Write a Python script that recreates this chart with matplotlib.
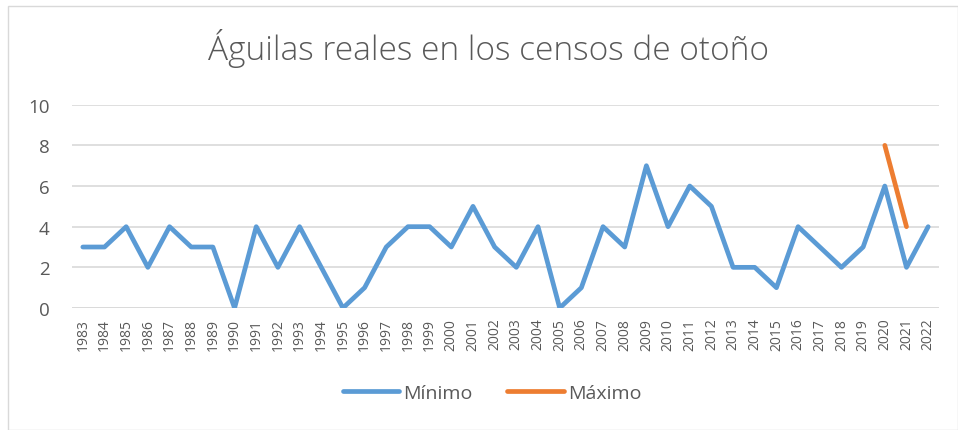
import matplotlib
matplotlib.use("Agg")
import matplotlib.pyplot as plt
from matplotlib.patches import Rectangle

years = [str(y) for y in range(1983, 2023)]
minimo = [3, 3, 4, 2, 4, 3, 3, 0, 4, 2, 4, 2, 0, 1, 3, 4, 4, 3, 5, 3,
          2, 4, 0, 1, 4, 3, 7, 4, 6, 5, 2, 2, 1, 4, 3, 2, 3, 6, 2, 4]
maximo_years = ["2020", "2021"]
maximo = [8, 4]
yticks = [0, 2, 4, 6, 8, 10]

plt.rcParams['font.family'] = ['Open Sans', 'DejaVu Sans']
txt = '#595959'

fig = plt.figure(figsize=(9.58, 4.31), dpi=100)
ax = fig.add_axes([72/958, 1 - 309/431, 867/958, (309-105.7)/431])

xi = list(range(len(years)))
ax.plot(xi, minimo, color='#5B9BD5', lw=3.4, solid_joinstyle='round',
        solid_capstyle='round', label='Mínimo', zorder=3)
mx = [years.index(y) for y in maximo_years]
ax.plot(mx, maximo, color='#ED7D31', lw=3.4, solid_capstyle='round',
        label='Máximo', zorder=3)

ax.set_xlim(-0.5, len(years) - 0.5)
ax.set_ylim(0, 10)
ax.set_yticks(yticks)
ax.set_yticklabels([str(v) for v in yticks], fontsize=13.5, color=txt)
ax.set_xticks(xi)
ax.set_xticklabels(years, rotation=90, fontsize=10, color=txt)
ax.tick_params(axis='both', length=0)
ax.tick_params(axis='y', pad=16)
ax.tick_params(axis='x', pad=7)
ax.grid(axis='y', color='#D9D9D9', lw=1.2, zorder=0)
ax.set_axisbelow(True)
for s in ax.spines.values():
    s.set_visible(False)
ax.axhline(0, color='#D9D9D9', lw=1.2, zorder=1)

fig.text(488/958, 1 - 49/431, 'Águilas reales en los censos de otoño',
         ha='center', va='center', fontsize=24, color=txt, fontweight='light')

leg = fig.legend(loc='center', bbox_to_anchor=(492/958, 1 - 394/431), ncol=2,
                 frameon=False, fontsize=14, handlelength=2.9,
                 columnspacing=1.8, handletextpad=0.2)
for t in leg.get_texts():
    t.set_color(txt)

fig.patches.append(Rectangle((8/958, 0), 1 - 8/958, 1 - 7/431, transform=fig.transFigure,
                             fill=False, edgecolor='#D9D9D9', lw=1.0))

fig.savefig('out.png', dpi=100, facecolor='white')
